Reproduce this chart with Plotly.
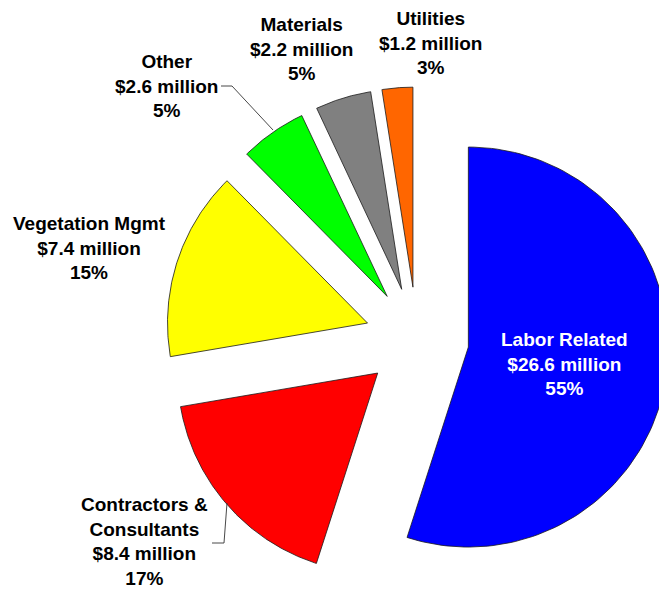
import numpy as np
import plotly.graph_objects as go

# Budget breakdown, $ million
categories = ["Labor Related", "Contractors & Consultants", "Vegetation Mgmt",
              "Other", "Materials", "Utilities"]
amounts_musd = [26.6, 8.4, 7.4, 2.6, 2.2, 1.2]
percent_labels = [55, 17, 15, 5, 5, 3]

colors = ["#0000FF", "#FF0000", "#FFFF00", "#00FF00", "#808080", "#FF6600"]

# Geometry (unit radius, clockwise from 12 o'clock)
EXPLODE = 0.26
ARC_STEPS = 120

amounts = np.array(amounts_musd, dtype=float)
fractions = amounts / amounts.sum()
ends = np.cumsum(fractions) * 2 * np.pi
starts = ends - fractions * 2 * np.pi

fig = go.Figure()

for name, start, end, color in zip(categories, starts, ends, colors):
    mid = 0.5 * (start + end)
    ox, oy = EXPLODE * np.sin(mid), EXPLODE * np.cos(mid)
    theta = np.linspace(start, end, ARC_STEPS)
    xs = np.concatenate([[ox], ox + np.sin(theta), [ox]])
    ys = np.concatenate([[oy], oy + np.cos(theta), [oy]])
    fig.add_trace(go.Scatter(
        x=xs, y=ys, mode="lines", fill="toself", fillcolor=color,
        line=dict(color="#1a1a1a", width=0.8), name=name,
        hoverinfo="name", showlegend=False,
    ))

# Label text and placement (data units)
label_names = ["Labor Related", "Contractors &<br>Consultants", "Vegetation Mgmt",
               "Other", "Materials", "Utilities"]
label_pos = [(0.735, -0.125), (-1.365, -1.012), (-1.64, 0.455),
             (-1.255, 1.265), (-0.58, 1.45), (0.065, 1.48)]
label_colors = ["white", "black", "black", "black", "black", "black"]

for name, amt, pct, (lx, ly), tc in zip(label_names, amounts_musd, percent_labels,
                                          label_pos, label_colors):
    fig.add_annotation(
        x=lx, y=ly, xref="x", yref="y",
        text=f"{name}<br>${amt:g} million<br>{pct}%",
        showarrow=False, align="center", xanchor="center", yanchor="middle",
        borderpad=0,
        font=dict(family="Arial, Liberation Sans, sans-serif", size=19,
                  color=tc, weight="bold"),
    )

# Leader lines for the two offset labels
leaders = [
    [(-0.98, 1.265), (-0.925, 1.265), (-0.72, 1.045)],
    [(-1.025, -1.02), (-0.965, -1.02), (-0.95, -0.82)],
]
for pts in leaders:
    fig.add_trace(go.Scatter(
        x=[p[0] for p in pts], y=[p[1] for p in pts], mode="lines",
        line=dict(color="#333333", width=0.9), hoverinfo="skip", showlegend=False,
    ))

fig.update_xaxes(range=[-2.085, 1.21], visible=False, fixedrange=True)
fig.update_yaxes(range=[-1.26, 1.695], visible=False, fixedrange=True)
fig.update_layout(
    width=659, height=591,
    margin=dict(l=0, r=0, t=0, b=0),
    paper_bgcolor="white", plot_bgcolor="white",
)

fig.write_html("out.html")
